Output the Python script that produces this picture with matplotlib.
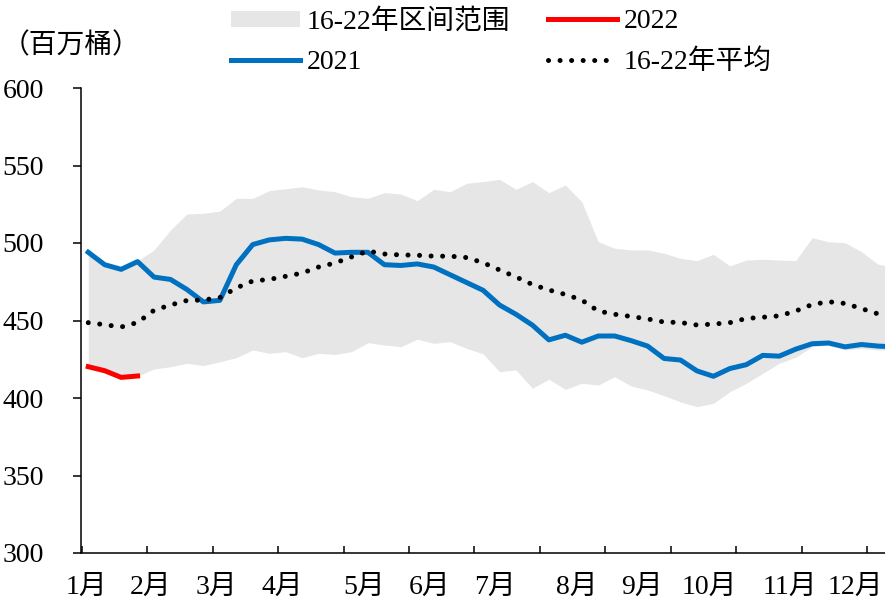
import numpy as np
import matplotlib.pyplot as plt
from matplotlib.patches import Patch
from matplotlib.lines import Line2D

plt.rcParams['font.family'] = ['Liberation Serif', 'Noto Sans CJK SC', 'DejaVu Sans']
plt.rcParams['font.size'] = 20

# weekly data, 百万桶
y2021 = [494, 486, 483, 488, 478, 476.5, 470, 462, 463, 486, 499, 502, 503, 502.5, 499,
         493.5, 494, 494, 486, 485.5, 486.5, 484.5, 479.5, 474.5, 469.5, 460, 454, 447,
         437.5, 440.5, 436, 440, 440, 437, 433.5, 425.5, 424.5, 417.5, 414, 419, 421.5,
         427.5, 427, 431.5, 435, 435.5, 433, 434.5, 433.5, 433]
y2022 = [420.2, 417.6, 413.3, 414.2]
avg = [448.6, 447.3, 445.8, 448.7, 456.6, 460.0, 462.9, 463.2, 464.8, 471.0, 475.5, 476.5,
       478.5, 480.6, 484.5, 487.1, 491.0, 494.8, 492.9, 492.3, 492.1, 491.5, 491.5, 490.6,
       487.3, 482.6, 478.1, 473.2, 469.7, 466.8, 463.2, 456.1, 454.0, 452.6, 451.0, 449.0,
       448.7, 447.1, 447.7, 448.6, 451.3, 452.1, 453.0, 456.1, 460.3, 462.1, 461.0, 457.7,
       454.3, 451.6]
band_high = [494.4, 486.3, 483.0, 488.5, 495.5, 508.4, 518.7, 519.2, 520.6, 528.8, 528.8,
             533.8, 535.0, 536.3, 534.2, 533.1, 529.9, 528.8, 532.5, 531.6, 527.3, 534.6,
             533.1, 538.5, 539.6, 541.1, 534.6, 539.6, 532.5, 537.4, 526.6, 500.8, 496.6,
             495.5, 495.5, 493.4, 490.1, 488.6, 492.7, 485.2, 489.0, 489.5, 489.0, 488.6,
             503.4, 500.8, 500.2, 494.4, 486.3, 484.5]
band_low = [420.2, 417.6, 413.3, 414.2, 418.7, 420.2, 422.4, 420.9, 423.4, 426.0, 431.0,
            428.8, 429.9, 426.0, 428.8, 428.1, 429.9, 435.7, 434.2, 433.1, 437.9, 435.3,
            436.3, 432.0, 428.5, 417.0, 418.1, 406.3, 412.1, 405.6, 409.5, 408.4, 413.7,
            407.7, 405.2, 401.5, 397.5, 394.4, 396.6, 404.1, 409.5, 415.9, 422.4, 426.3,
            433.1, 434.0, 431.0, 432.0, 431.0, 431.0]
months = ['1月', '2月', '3月', '4月', '5月', '6月', '7月', '8月', '9月', '10月', '11月', '12月']
month_x = [-0.14, 3.81, 7.76, 11.77, 16.76, 20.77, 24.73, 29.71, 33.66, 37.73, 42.65, 46.61]

weeks = np.arange(len(y2021))

fig = plt.figure(figsize=(8.85, 6.03), dpi=100)
ax = fig.add_axes([81 / 885, 1 - 553 / 603, 1 - 81 / 885, 465 / 603])

gray = '#e6e6e6'
blue = '#0070C0'
red = '#FF0000'
dots = (0, (0.01, 2.3))

ax.fill_between(weeks, band_low, band_high, color=gray, lw=0, zorder=1)
ax.plot(weeks, y2021, color=blue, lw=3.6, zorder=2)
ax.plot(weeks[:len(y2022)], y2022, color=red, lw=3.6, zorder=2)
ax.plot(weeks, avg, color='black', lw=3.6, linestyle=dots, dash_capstyle='round', zorder=3)

ax.set_xlim(-0.44, 48.43)
ax.set_ylim(300, 600)
ax.set_yticks(np.arange(300, 601, 50))
ax.set_xticks(np.arange(13) * 3.976 - 0.38)
ax.set_xticklabels([])
ax.tick_params(axis='x', direction='in', length=5, width=1.1)
ax.tick_params(axis='y', direction='out', length=5.8, width=1.1, pad=21)
for s in ['top', 'right']:
    ax.spines[s].set_visible(False)
for s in ['left', 'bottom']:
    ax.spines[s].set_linewidth(1.1)

for m, x in zip(months, month_x):
    ax.text(x, -0.073, m, transform=ax.get_xaxis_transform(), ha='center', va='center')

fig.text(2 / 885, 1 - 46 / 603, '（百万桶）', ha='left', va='center')

# legend, two columns
h_band = Patch(facecolor=gray, edgecolor='none')
h_2021 = Line2D([], [], color=blue, lw=3.6)
h_2022 = Line2D([], [], color=red, lw=3.6)
h_avg = Line2D([], [], color='black', lw=3.6, linestyle=dots, dash_capstyle='round')
opts = dict(loc='center left', frameon=False, borderpad=0, borderaxespad=0,
            handlelength=2.5, handleheight=0.47, handletextpad=0.22, labelspacing=0.55,
            bbox_transform=fig.transFigure)
leg1 = ax.legend([h_band, h_2021], ['16-22年区间范围', '2021'],
                 bbox_to_anchor=(231 / 885, 1 - 42 / 603), **opts)
ax.add_artist(leg1)
ax.legend([h_2022, h_avg], ['2022', '16-22年平均'],
          bbox_to_anchor=(548 / 885, 1 - 42 / 603), **opts)

fig.savefig('out.png', dpi=100)
